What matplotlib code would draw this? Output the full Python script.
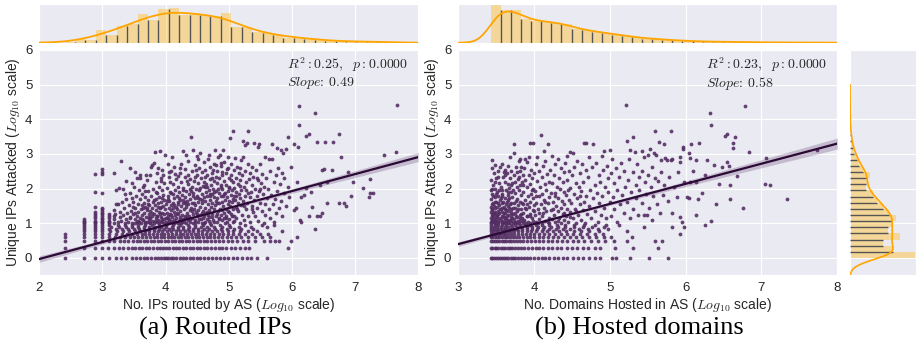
import numpy as np
import matplotlib
matplotlib.use("Agg")
import matplotlib.pyplot as plt
import seaborn as sns

# ---------------- data ----------------
ROW_LEVELS = [0.0, 0.301, 0.477, 0.602, 0.699, 0.778, 0.845, 0.903, 0.954]

L_row_x = [
    [2.40, 2.70, 2.88, 3.00, 3.10, 3.21, 3.30, 3.38, 3.46, 3.53, 3.60, 3.66, 3.71, 3.77, 3.83, 3.88, 3.93, 3.97, 4.00, 4.04,
     4.08, 4.12, 4.17, 4.22, 4.28, 4.33, 4.39, 4.44, 4.50, 4.55, 4.61, 4.67, 4.73, 4.79, 4.86, 4.92, 4.99, 5.06, 5.13, 5.21,
     5.29, 5.35, 5.44, 5.61],
    [2.40, 2.70, 2.88, 3.00, 3.09, 3.18, 3.26, 3.33, 3.40, 3.46, 3.52, 3.58, 3.63, 3.69, 3.74, 3.80, 3.86, 3.91, 3.96, 4.01,
     4.06, 4.11, 4.16, 4.21, 4.27, 4.32, 4.38, 4.43, 4.49, 4.55, 4.60, 4.66, 4.72, 4.78, 4.84, 4.90, 4.96, 5.03, 5.10, 5.18,
     5.25, 5.32, 5.94],
    [2.40, 2.70, 2.88, 3.00, 3.10, 3.19, 3.27, 3.34, 3.41, 3.48, 3.54, 3.60, 3.65, 3.71, 3.77, 3.82, 3.88, 3.93, 3.99, 4.04,
     4.10, 4.15, 4.21, 4.26, 4.32, 4.37, 4.43, 4.49, 4.54, 4.60, 4.66, 4.72, 4.78, 4.84, 4.91, 4.98, 5.05, 5.13, 5.22, 5.31,
     5.42, 5.55, 5.66, 5.73, 5.79, 5.98],
    [2.40, 2.70, 2.88, 3.00, 3.11, 3.20, 3.28, 3.36, 3.43, 3.50, 3.57, 3.63, 3.69, 3.75, 3.81, 3.87, 3.92, 3.98, 4.03, 4.09,
     4.14, 4.20, 4.25, 4.31, 4.36, 4.42, 4.48, 4.53, 4.59, 4.65, 4.71, 4.77, 4.83, 4.90, 4.97, 5.04, 5.12, 5.20, 5.30, 5.41,
     5.52, 5.65, 6.08],
    [2.40, 2.70, 2.88, 3.00, 3.10, 3.22, 3.31, 3.39, 3.47, 3.55, 3.62, 3.68, 3.74, 3.80, 3.86, 3.92, 3.98, 4.04, 4.10, 4.16,
     4.22, 4.28, 4.34, 4.40, 4.46, 4.52, 4.58, 4.64, 4.70, 4.77, 4.84, 4.91, 4.99, 5.07, 5.16, 5.26, 5.37, 5.50, 5.62],
    [2.70, 2.88, 3.00, 3.12, 3.23, 3.33, 3.42, 3.51, 3.59, 3.67, 3.74, 3.81, 3.88, 3.95, 4.02, 4.09, 4.16, 4.23, 4.30, 4.37,
     4.44, 4.51, 4.58, 4.65, 4.73, 4.81, 4.89, 4.98, 5.07, 5.18, 5.31, 5.45, 5.85],
    [2.70, 2.88, 3.00, 3.10, 3.21, 3.31, 3.41, 3.50, 3.58, 3.66, 3.74, 3.82, 3.90, 3.97, 4.05, 4.12, 4.20, 4.28, 4.36, 4.44,
     4.52, 4.60, 4.69, 4.78, 4.87, 4.97, 5.08, 5.20, 5.38, 6.37],
    [2.70, 2.88, 3.00, 3.13, 3.26, 3.37, 3.47, 3.56, 3.65, 3.74, 3.83, 3.92, 4.01, 4.10, 4.19, 4.28, 4.37, 4.46, 4.56, 4.66,
     4.77, 4.89, 5.02, 5.16, 5.35, 5.60],
    [2.70, 2.88, 3.00, 3.11, 3.24, 3.35, 3.46, 3.57, 3.68, 3.79, 3.90, 4.01, 4.12, 4.23, 4.35, 4.47, 4.59, 4.72, 4.86, 5.01,
     5.25, 5.52, 5.72],
]

L_cloud = [
    (2.70, 1.00), (2.70, 1.04), (2.70, 1.08), (2.70, 1.11),
    (2.88, 1.00), (2.88, 1.04), (2.88, 1.08), (2.88, 1.15), (2.88, 1.20), (2.88, 1.26), (2.88, 1.34), (2.88, 1.46),
    (2.88, 1.91), (2.88, 2.42),
    (3.00, 1.00), (3.00, 1.04), (3.00, 1.08), (3.00, 1.11), (3.00, 1.15), (3.00, 1.20), (3.00, 1.26), (3.00, 1.30),
    (3.00, 1.36), (3.00, 1.41), (3.00, 1.45), (3.00, 1.88), (3.00, 2.42), (3.00, 2.48), (3.00, 2.56),
    (3.10, 1.00), (3.10, 1.04), (3.10, 1.08), (3.10, 1.15), (3.10, 1.20), (3.10, 1.28),
    (3.18, 1.02), (3.19, 1.11), (3.18, 1.20), (3.20, 1.28), (3.19, 1.38), (3.21, 1.56), (3.19, 2.46), (3.22, 1.95),
    (3.25, 1.55), (3.24, 1.05), (3.27, 1.17), (3.28, 1.33), (3.30, 2.80), (3.31, 1.62), (3.30, 1.08), (3.33, 1.24),
    (3.34, 1.45), (3.35, 1.85), (3.36, 1.00), (3.37, 1.12), (3.38, 1.70), (3.39, 1.30), (3.26, 2.02), (3.32, 1.98),
    (3.38, 2.21),
    (3.41, 1.04), (3.42, 1.52), (3.43, 2.61), (3.43, 1.18), (3.44, 1.88), (3.45, 1.35), (3.46, 2.15), (3.47, 1.00),
    (3.48, 1.62), (3.49, 1.26), (3.50, 2.05), (3.51, 2.49), (3.51, 1.11), (3.52, 1.44), (3.53, 1.78), (3.54, 1.20),
    (3.55, 2.32), (3.55, 1.03), (3.56, 1.57), (3.57, 1.34), (3.58, 1.95), (3.59, 2.39), (3.59, 2.30), (3.59, 1.15),
    (3.60, 1.70), (3.46, 1.74), (3.52, 1.30), (3.57, 1.08), (3.44, 1.14), (3.49, 1.48),
    (3.61, 1.02), (3.61, 1.40), (3.62, 1.85), (3.63, 1.23), (3.64, 2.05), (3.64, 1.10), (3.65, 1.60), (3.66, 2.10),
    (3.66, 1.31), (3.67, 1.00), (3.68, 1.48), (3.68, 1.75), (3.69, 1.18), (3.70, 2.25), (3.70, 1.38), (3.71, 1.05),
    (3.72, 1.66), (3.72, 1.92), (3.73, 1.26), (3.74, 1.12), (3.74, 1.54), (3.75, 2.40), (3.76, 1.02), (3.76, 1.36),
    (3.77, 1.80), (3.77, 2.62), (3.78, 1.20), (3.78, 2.68), (3.79, 1.45), (3.79, 1.08), (3.80, 1.98), (3.80, 1.62),
    (3.63, 1.52), (3.67, 1.92), (3.71, 1.44), (3.75, 1.15), (3.69, 2.38), (3.73, 1.04),
    (3.81, 1.28), (3.82, 2.75), (3.82, 1.00), (3.83, 3.06), (3.83, 1.52), (3.84, 1.15), (3.84, 2.20), (3.85, 1.70),
    (3.85, 1.38), (3.86, 1.05), (3.86, 2.45), (3.87, 1.88), (3.87, 1.22), (3.88, 1.58), (3.88, 1.10), (3.89, 2.05),
    (3.89, 1.34), (3.90, 1.02), (3.90, 1.75), (3.91, 3.09), (3.91, 1.44), (3.92, 1.18), (3.92, 2.30), (3.93, 1.62),
    (3.93, 1.06), (3.94, 1.95), (3.94, 1.30), (3.95, 2.55), (3.95, 1.12), (3.96, 1.50), (3.96, 1.82), (3.97, 1.00),
    (3.97, 1.26), (3.98, 2.15), (3.98, 1.68), (3.99, 1.40), (3.99, 2.97), (4.00, 1.15), (3.84, 1.90), (3.88, 2.60),
    (3.92, 1.48), (3.96, 2.38),
    (4.01, 1.56), (4.01, 1.04), (4.02, 2.02), (4.02, 1.30), (4.03, 2.72), (4.03, 1.20), (4.04, 1.78), (4.04, 1.00),
    (4.05, 1.45), (4.05, 2.35), (4.06, 1.12), (4.06, 1.65), (4.07, 1.90), (4.07, 1.28), (4.08, 2.50), (4.08, 1.08),
    (4.09, 1.52), (4.09, 1.38), (4.10, 2.90), (4.10, 1.18), (4.11, 1.85), (4.11, 1.02), (4.12, 2.12), (4.12, 1.60),
    (4.13, 1.34), (4.13, 1.10), (4.14, 2.62), (4.14, 1.72), (4.15, 1.24), (4.15, 1.96), (4.16, 1.05), (4.16, 1.48),
    (4.17, 2.28), (4.17, 1.15), (4.18, 1.80), (4.18, 1.40), (4.19, 2.05), (4.19, 1.00), (4.20, 1.62), (4.20, 1.26),
    (4.03, 1.70), (4.07, 2.18), (4.11, 1.44), (4.15, 2.42), (4.19, 1.55),
    (4.21, 1.08), (4.21, 1.90), (4.22, 1.35), (4.22, 2.45), (4.23, 1.18), (4.23, 1.68), (4.24, 2.20), (4.24, 1.02),
    (4.25, 1.50), (4.25, 2.70), (4.26, 1.25), (4.26, 1.82), (4.27, 3.08), (4.27, 1.12), (4.28, 1.58), (4.28, 2.02),
    (4.29, 1.40), (4.29, 1.05), (4.30, 2.35), (4.30, 1.75), (4.31, 1.20), (4.31, 2.58), (4.32, 1.48), (4.32, 1.00),
    (4.33, 1.92), (4.33, 2.98), (4.34, 1.30), (4.34, 1.65), (4.35, 2.12), (4.35, 1.10), (4.36, 1.55), (4.36, 2.80),
    (4.37, 1.22), (4.37, 1.85), (4.38, 1.38), (4.38, 2.28), (4.39, 1.04), (4.39, 1.70), (4.40, 3.50), (4.40, 1.45),
    (4.23, 2.60), (4.27, 1.95), (4.31, 1.62), (4.35, 2.40), (4.39, 2.00),
    (4.41, 1.15), (4.41, 2.05), (4.42, 1.60), (4.42, 2.50), (4.43, 3.11), (4.43, 1.28), (4.44, 1.88), (4.44, 1.02),
    (4.45, 2.22), (4.45, 1.42), (4.46, 1.72), (4.46, 2.68), (4.47, 1.10), (4.47, 1.52), (4.48, 2.00), (4.48, 1.32),
    (4.49, 2.95), (4.49, 1.20), (4.50, 1.80), (4.50, 2.38), (4.51, 1.05), (4.51, 1.62), (4.52, 2.15), (4.52, 1.38),
    (4.53, 1.95), (4.53, 2.60), (4.54, 1.25), (4.54, 1.70), (4.55, 3.03), (4.55, 1.48), (4.56, 2.30), (4.56, 1.12),
    (4.57, 1.85), (4.57, 1.58), (4.58, 2.48), (4.58, 1.00), (4.59, 1.35), (4.59, 2.08), (4.60, 1.75), (4.60, 2.78),
    (4.43, 1.78), (4.47, 2.35), (4.51, 2.85), (4.55, 2.02), (4.59, 1.15),
    (4.61, 1.22), (4.61, 2.20), (4.62, 1.65), (4.62, 1.05), (4.63, 2.55), (4.63, 1.45), (4.64, 1.90), (4.64, 1.30),
    (4.65, 2.40), (4.65, 1.12), (4.66, 1.78), (4.66, 2.05), (4.67, 1.55), (4.67, 2.85), (4.68, 2.97), (4.68, 1.38),
    (4.69, 1.95), (4.69, 1.18), (4.70, 2.28), (4.70, 1.68), (4.71, 1.02), (4.71, 2.62), (4.72, 1.48), (4.72, 2.10),
    (4.73, 1.85), (4.73, 1.28), (4.74, 2.45), (4.74, 1.60), (4.75, 1.10), (4.75, 2.00), (4.76, 2.72), (4.76, 1.40),
    (4.77, 1.75), (4.77, 2.22), (4.78, 3.11), (4.78, 1.52), (4.79, 1.20), (4.79, 1.92), (4.80, 2.35), (4.80, 1.65),
    (4.63, 2.05), (4.67, 1.25), (4.71, 1.85), (4.75, 2.55), (4.79, 2.68),
    (4.81, 1.05), (4.81, 2.15), (4.82, 1.72), (4.82, 2.52), (4.83, 1.35), (4.83, 2.90), (4.84, 1.88), (4.84, 1.15),
    (4.85, 2.30), (4.85, 1.58), (4.86, 2.97), (4.86, 1.42), (4.87, 2.05), (4.87, 1.25), (4.88, 2.65), (4.88, 1.80),
    (4.89, 1.62), (4.89, 2.40), (4.90, 1.10), (4.90, 1.98), (4.91, 3.11), (4.91, 1.50), (4.92, 2.22), (4.92, 1.30),
    (4.93, 1.85), (4.93, 2.78), (4.94, 1.68), (4.94, 1.02), (4.95, 2.45), (4.95, 1.40), (4.96, 2.10), (4.96, 1.20),
    (4.97, 1.75), (4.97, 2.58), (4.98, 1.55), (4.98, 2.90), (4.99, 1.92), (4.99, 1.35), (5.00, 2.30), (5.00, 1.65),
    (4.83, 2.00), (4.87, 2.75), (4.91, 1.78), (4.95, 1.15), (4.99, 2.60),
    (5.01, 1.12), (5.01, 2.05), (5.02, 3.45), (5.02, 1.50), (5.03, 2.40), (5.03, 1.82), (5.04, 1.28), (5.04, 2.70),
    (5.05, 1.95), (5.05, 1.62), (5.06, 2.20), (5.06, 1.05), (5.07, 3.67), (5.07, 1.40), (5.08, 2.55), (5.08, 1.78),
    (5.09, 2.02), (5.09, 1.22), (5.10, 1.68), (5.10, 2.88), (5.11, 1.48), (5.11, 2.30), (5.12, 1.90), (5.12, 1.15),
    (5.13, 2.62), (5.14, 1.58), (5.14, 2.12), (5.15, 1.35), (5.16, 1.85), (5.16, 2.45), (5.17, 1.02), (5.18, 1.72),
    (5.18, 2.25), (5.19, 1.52), (5.20, 2.82), (5.20, 1.95),
    (5.21, 1.25), (5.21, 2.38), (5.22, 3.38), (5.23, 1.65), (5.23, 2.90), (5.24, 2.05), (5.24, 1.10), (5.25, 1.80),
    (5.25, 3.27), (5.26, 2.52), (5.27, 1.42), (5.27, 2.18), (5.28, 1.95), (5.29, 3.32), (5.29, 1.58), (5.30, 2.70),
    (5.31, 3.67), (5.31, 1.20), (5.32, 2.28), (5.33, 1.75), (5.34, 2.45), (5.34, 1.05), (5.35, 1.90), (5.36, 2.62),
    (5.37, 1.50), (5.37, 2.10), (5.38, 1.32), (5.39, 2.35), (5.40, 3.32), (5.40, 1.68),
    (5.41, 2.00), (5.42, 1.22), (5.43, 2.55), (5.44, 1.78), (5.45, 1.45), (5.46, 3.19), (5.46, 2.25), (5.47, 1.08),
    (5.48, 3.30), (5.48, 1.92), (5.49, 2.70), (5.50, 1.60), (5.51, 2.15), (5.52, 1.35), (5.53, 2.42), (5.54, 1.85),
    (5.55, 1.02), (5.56, 2.05), (5.57, 1.55), (5.58, 2.90), (5.58, 1.25), (5.59, 2.30), (5.60, 1.72),
    (5.62, 1.98), (5.63, 1.40), (5.64, 2.86), (5.65, 2.50), (5.66, 1.15), (5.67, 1.82), (5.68, 3.30), (5.69, 2.86),
    (5.70, 1.55), (5.71, 2.20), (5.72, 1.05), (5.73, 1.70), (5.74, 2.40), (5.75, 1.30), (5.76, 3.16), (5.77, 1.92),
    (5.78, 2.60), (5.79, 1.45),
    (5.81, 2.12), (5.82, 3.11), (5.83, 1.65), (5.84, 2.45), (5.85, 1.20), (5.86, 3.03), (5.87, 1.88), (5.88, 2.30),
    (5.90, 3.13), (5.91, 1.50), (5.93, 3.50), (5.94, 2.05), (5.96, 1.75), (5.98, 2.62),
    (6.03, 3.30), (6.03, 1.39), (6.06, 1.43), (6.08, 2.20), (6.09, 3.19), (6.11, 4.39), (6.11, 3.85), (6.13, 1.10),
    (6.15, 1.05), (6.14, 1.77), (6.19, 1.82), (6.23, 3.52), (6.23, 2.01), (6.27, 3.58), (6.27, 1.22), (6.30, 1.91),
    (6.32, 1.48), (6.37, 4.17), (6.40, 3.34), (6.40, 1.20), (6.45, 1.20), (6.45, 2.10), (6.48, 2.54), (6.48, 1.31),
    (6.51, 2.58), (6.53, 3.34), (6.56, 2.20), (6.56, 1.60), (6.64, 2.54), (6.65, 3.36), (6.74, 3.58), (6.75, 1.60),
    (6.77, 2.92), (6.82, 1.60), (6.85, 1.50), (6.88, 2.49), (6.93, 1.79), (6.96, 2.20),
    (7.13, 2.03), (7.22, 1.77), (7.24, 2.28), (7.24, 1.86), (7.28, 1.86), (7.45, 2.98), (7.65, 3.06), (7.67, 4.41),
]

L_cloud_extra = [
    (3.52, 1.00), (3.58, 1.04), (3.62, 1.11), (3.68, 1.04), (3.73, 1.18), (3.78, 1.30), (3.83, 1.08), (3.86, 1.20),
    (3.91, 1.26), (3.94, 1.04), (3.98, 1.11), (4.02, 1.15), (4.05, 1.08), (4.09, 1.23), (4.14, 1.00), (4.18, 1.30),
    (4.22, 1.11), (4.26, 1.04), (4.30, 1.15), (4.34, 1.20), (4.38, 1.11), (4.42, 1.36), (4.46, 1.04), (4.50, 1.26),
    (4.53, 1.11), (4.57, 1.30), (4.61, 1.00), (4.65, 1.34), (4.69, 1.08), (4.73, 1.18), (4.77, 1.04), (4.81, 1.28),
    (4.85, 1.11), (4.89, 1.38), (4.93, 1.15), (4.97, 1.04), (5.01, 1.32), (5.05, 1.20), (5.09, 1.08), (5.13, 1.42),
    (3.64, 1.45), (3.72, 1.57), (3.81, 1.66), (3.88, 1.46), (3.95, 1.72), (4.02, 1.63), (4.08, 1.86), (4.13, 1.52),
    (4.21, 1.74), (4.27, 1.66), (4.33, 1.57), (4.40, 1.92), (4.45, 1.60), (4.52, 1.74), (4.58, 1.68), (4.64, 2.12),
    (4.70, 1.80), (4.76, 1.90), (4.82, 1.58), (4.88, 2.10), (4.94, 1.86), (5.00, 2.02), (5.06, 1.70), (5.12, 1.78),
    (5.18, 2.08), (5.24, 1.50), (5.30, 1.88), (5.36, 1.40), (5.44, 2.30), (5.50, 1.98),
    (3.92, 2.22), (4.06, 2.48), (4.20, 2.36), (4.34, 2.22), (4.48, 2.55), (4.62, 2.35), (4.74, 2.30), (4.90, 2.48),
    (5.04, 2.25), (5.18, 2.60),
]

R_row_x = [
    [3.43, 3.45, 3.47, 3.50, 3.52, 3.55, 3.57, 3.60, 3.63, 3.66, 3.69, 3.72, 3.75, 3.79, 3.83, 3.87, 3.91, 3.95, 4.00, 4.05,
     4.10, 4.15, 4.20, 4.26, 4.32, 4.38, 4.44, 4.51, 4.58, 4.65, 4.73, 4.80, 4.87, 5.03, 5.08, 5.27, 5.52, 5.77],
    [3.43, 3.45, 3.48, 3.50, 3.53, 3.56, 3.59, 3.62, 3.65, 3.68, 3.71, 3.75, 3.79, 3.83, 3.87, 3.92, 3.97, 4.02, 4.07, 4.12,
     4.18, 4.24, 4.30, 4.36, 4.43, 4.50, 4.57, 4.65, 4.71, 4.80, 4.87, 5.07, 5.31, 5.63],
    [3.43, 3.46, 3.48, 3.51, 3.54, 3.57, 3.60, 3.63, 3.67, 3.70, 3.74, 3.78, 3.82, 3.86, 3.91, 3.96, 4.01, 4.06, 4.12, 4.18,
     4.24, 4.30, 4.37, 4.44, 4.51, 4.58, 4.66, 4.75, 4.84, 4.93, 5.05, 5.22, 5.60, 5.69],
    [3.43, 3.45, 3.48, 3.51, 3.54, 3.57, 3.61, 3.64, 3.68, 3.72, 3.76, 3.80, 3.85, 3.90, 3.95, 4.00, 4.06, 4.12, 4.18, 4.25,
     4.32, 4.39, 4.47, 4.55, 4.63, 4.72, 4.82, 4.92, 5.02, 5.29],
    [3.43, 3.46, 3.49, 3.52, 3.55, 3.59, 3.62, 3.66, 3.70, 3.74, 3.79, 3.84, 3.89, 3.94, 4.00, 4.06, 4.13, 4.20, 4.27, 4.35,
     4.43, 4.51, 4.60, 4.70, 4.80, 4.91, 5.93],
    [3.43, 3.46, 3.50, 3.53, 3.57, 3.61, 3.65, 3.69, 3.74, 3.79, 3.84, 3.90, 3.96, 4.03, 4.10, 4.17, 4.25, 4.33, 4.42, 4.52,
     4.62, 4.73, 4.85, 5.22],
    [3.43, 3.47, 3.51, 3.55, 3.59, 3.63, 3.68, 3.73, 3.78, 3.84, 3.90, 3.97, 4.04, 4.12, 4.20, 4.29, 4.38, 4.48, 4.59, 4.71,
     4.84, 4.98],
    [3.43, 3.47, 3.51, 3.56, 3.61, 3.66, 3.71, 3.77, 3.83, 3.90, 3.97, 4.05, 4.13, 4.22, 4.31, 4.41, 4.52, 4.64, 4.77, 4.92,
     5.45, 5.82, 5.98],
    [3.43, 3.48, 3.53, 3.58, 3.63, 3.69, 3.75, 3.81, 3.88, 3.95, 4.03, 4.11, 4.20, 4.30, 4.41, 4.53, 4.66, 4.80, 4.95, 5.12,
     6.26],
]

R_cloud = [
    (3.43, 1.00), (3.43, 1.15), (3.43, 1.32), (3.43, 1.48), (3.43, 1.70), (3.43, 1.95), (3.43, 2.25), (3.44, 2.60),
    (3.44, 1.08), (3.44, 1.40), (3.45, 2.82), (3.45, 1.22), (3.45, 1.85), (3.46, 1.04), (3.46, 1.58), (3.46, 2.10),
    (3.47, 1.30), (3.47, 2.45), (3.47, 1.12), (3.48, 1.75), (3.48, 1.00), (3.48, 2.00), (3.49, 1.45), (3.49, 2.68),
    (3.50, 1.18), (3.50, 1.62), (3.50, 2.30), (3.51, 1.06), (3.51, 1.90), (3.52, 1.36), (3.52, 2.52), (3.52, 1.02),
    (3.53, 1.80), (3.53, 1.26), (3.54, 2.15), (3.54, 1.52), (3.55, 1.10), (3.55, 2.62), (3.55, 1.68), (3.54, 1.95),
    (3.56, 1.40), (3.56, 2.05), (3.57, 1.00), (3.57, 1.22), (3.58, 2.70), (3.58, 1.60), (3.58, 1.85), (3.59, 1.08),
    (3.59, 2.35), (3.60, 1.48), (3.60, 1.30), (3.61, 2.20), (3.61, 1.05), (3.61, 1.72), (3.62, 2.55), (3.62, 1.15),
    (3.63, 1.95), (3.63, 1.38), (3.64, 2.45), (3.64, 1.02), (3.64, 1.62), (3.65, 1.25), (3.65, 2.12), (3.66, 1.82),
    (3.66, 1.10), (3.66, 2.65), (3.67, 1.45), (3.67, 1.00), (3.68, 2.90), (3.68, 2.30), (3.68, 1.55), (3.69, 1.18),
    (3.69, 1.90), (3.70, 2.52), (3.70, 1.32), (3.70, 1.06), (3.57, 1.78), (3.60, 2.48), (3.63, 1.12), (3.65, 1.68),
    (3.67, 2.02), (3.69, 1.40), (3.62, 1.30), (3.59, 1.20), (3.66, 1.50),
    (3.71, 1.75), (3.71, 2.15), (3.72, 1.02), (3.72, 1.28), (3.73, 3.03), (3.73, 1.60), (3.74, 3.30), (3.74, 2.40),
    (3.74, 1.12), (3.75, 1.88), (3.75, 1.45), (3.76, 2.62), (3.76, 1.05), (3.77, 1.35), (3.77, 2.05), (3.78, 1.70),
    (3.78, 1.18), (3.79, 2.28), (3.79, 1.52), (3.80, 1.00), (3.80, 2.80), (3.80, 1.95), (3.81, 1.25), (3.81, 1.62),
    (3.82, 2.50), (3.82, 1.08), (3.82, 2.86), (3.83, 1.42), (3.83, 1.82), (3.84, 2.18), (3.84, 1.15), (3.85, 1.55),
    (3.85, 2.40), (3.85, 1.02), (3.72, 1.95), (3.76, 1.22), (3.79, 1.08), (3.83, 2.62), (3.77, 2.48), (3.81, 2.10),
    (3.86, 1.30), (3.86, 1.90), (3.87, 2.60), (3.87, 1.10), (3.88, 1.68), (3.88, 2.25), (3.89, 1.40), (3.89, 1.02),
    (3.90, 2.05), (3.90, 1.55), (3.91, 2.78), (3.91, 1.20), (3.92, 1.80), (3.92, 1.05), (3.93, 2.40), (3.93, 1.48),
    (3.94, 3.32), (3.94, 1.28), (3.94, 2.12), (3.95, 1.62), (3.95, 1.00), (3.96, 2.55), (3.96, 1.85), (3.97, 1.15),
    (3.97, 2.30), (3.98, 3.33), (3.98, 1.38), (3.98, 1.72), (3.99, 2.00), (3.99, 1.08), (4.00, 2.45), (4.00, 1.52),
    (3.88, 2.85), (3.93, 2.92), (3.97, 1.95),
    (4.01, 1.25), (4.01, 1.92), (4.02, 2.70), (4.03, 1.05), (4.03, 1.60), (4.04, 2.22), (4.04, 2.92), (4.05, 1.40),
    (4.06, 1.78), (4.06, 1.12), (4.07, 2.50), (4.07, 1.30), (4.08, 2.05), (4.09, 3.56), (4.09, 1.55), (4.10, 1.00),
    (4.10, 2.35), (4.11, 1.85), (4.11, 1.20), (4.12, 2.65), (4.13, 3.09), (4.13, 1.45), (4.13, 1.68), (4.14, 2.12),
    (4.15, 1.08), (4.15, 2.80), (4.16, 1.35), (4.16, 1.95), (4.17, 2.42), (4.18, 3.30), (4.18, 1.58), (4.19, 1.15),
    (4.19, 2.20), (4.20, 1.75), (4.20, 1.02),
    (4.21, 2.55), (4.22, 1.38), (4.22, 1.88), (4.23, 2.95), (4.24, 1.12), (4.24, 2.15), (4.25, 1.62), (4.26, 2.40),
    (4.26, 1.25), (4.27, 1.80), (4.28, 2.70), (4.28, 1.05), (4.29, 1.50), (4.30, 2.05), (4.31, 1.35), (4.31, 2.85),
    (4.32, 1.72), (4.33, 2.30), (4.33, 1.15), (4.34, 1.98), (4.35, 1.45), (4.36, 2.60), (4.36, 1.02), (4.37, 1.65),
    (4.38, 2.18), (4.38, 1.28), (4.39, 1.90), (4.40, 2.48), (4.40, 1.55), (4.39, 1.10),
    (4.41, 2.75), (4.42, 1.20), (4.42, 1.82), (4.43, 2.25), (4.44, 1.42), (4.44, 2.95), (4.45, 1.05), (4.46, 1.68),
    (4.46, 2.50), (4.47, 3.05), (4.48, 1.32), (4.48, 2.02), (4.49, 1.58), (4.50, 2.38), (4.51, 3.03), (4.51, 1.15),
    (4.52, 1.85), (4.53, 2.62), (4.54, 1.40), (4.55, 2.15), (4.55, 1.02), (4.56, 1.72), (4.57, 2.80), (4.58, 1.25),
    (4.59, 2.05), (4.60, 1.55),
    (4.61, 2.45), (4.62, 1.10), (4.62, 1.92), (4.63, 2.70), (4.64, 1.38), (4.65, 2.20), (4.66, 3.33), (4.66, 1.62),
    (4.67, 1.02), (4.68, 3.32), (4.68, 2.55), (4.69, 1.80), (4.70, 1.28), (4.71, 2.35), (4.72, 1.50), (4.73, 2.90),
    (4.74, 1.95), (4.75, 1.15), (4.76, 2.62), (4.78, 3.30), (4.78, 1.72), (4.80, 2.10),
    (4.81, 1.35), (4.82, 2.75), (4.83, 1.88), (4.84, 1.05), (4.85, 2.40), (4.86, 1.60), (4.87, 2.18), (4.88, 1.25),
    (4.89, 2.95), (4.90, 1.78), (4.91, 2.55), (4.92, 3.09), (4.92, 1.45), (4.93, 2.05), (4.95, 1.15), (4.96, 2.65),
    (4.97, 1.90), (4.98, 2.30), (5.00, 3.11), (5.00, 1.62),
    (5.01, 2.45), (5.02, 1.20), (5.03, 2.85), (5.04, 1.75), (5.05, 2.15), (5.06, 1.40), (5.08, 2.60), (5.09, 1.05),
    (5.10, 1.95), (5.12, 2.35), (5.13, 1.55), (5.15, 2.75), (5.16, 1.82), (5.18, 1.30), (5.19, 2.50), (5.20, 2.05),
    (5.21, 4.41), (5.22, 3.38), (5.23, 1.62), (5.24, 2.25), (5.25, 2.85), (5.26, 1.15), (5.27, 3.11), (5.28, 1.90),
    (5.30, 3.50), (5.30, 2.48), (5.31, 1.40), (5.33, 3.06), (5.34, 2.10), (5.35, 1.72), (5.36, 2.70), (5.37, 1.25),
    (5.38, 2.35), (5.39, 1.95),
    (5.42, 3.09), (5.42, 1.60), (5.43, 2.50), (5.45, 2.92), (5.45, 1.24), (5.46, 2.20), (5.47, 1.85), (5.49, 1.24),
    (5.50, 2.97), (5.50, 2.40), (5.52, 1.45), (5.53, 3.13), (5.54, 2.05), (5.55, 1.10), (5.56, 2.62), (5.57, 1.78),
    (5.58, 3.02), (5.59, 2.30),
    (5.60, 3.67), (5.61, 2.97), (5.62, 1.55), (5.63, 2.22), (5.65, 3.35), (5.66, 1.30), (5.67, 2.82), (5.68, 2.48),
    (5.70, 1.82), (5.71, 3.28), (5.72, 2.10), (5.73, 2.87), (5.75, 2.82), (5.76, 1.65), (5.78, 2.35), (5.80, 2.84),
    (5.81, 3.67), (5.82, 2.86), (5.82, 1.29), (5.85, 2.05), (5.88, 1.75), (5.90, 2.48), (5.92, 2.78), (5.92, 1.19),
    (5.93, 2.92), (5.95, 1.05), (5.96, 3.19), (5.97, 3.13), (5.98, 2.20),
    (6.02, 1.77), (6.04, 3.03), (6.05, 1.72), (6.06, 2.87), (6.06, 2.20), (6.07, 3.30), (6.10, 2.52), (6.14, 2.82),
    (6.14, 2.20), (6.14, 1.25), (6.16, 1.69), (6.18, 3.32), (6.21, 1.86), (6.26, 2.40), (6.28, 2.84), (6.32, 4.17),
    (6.33, 3.85), (6.33, 1.08), (6.37, 2.68), (6.44, 2.12), (6.48, 2.63), (6.40, 1.55),
    (6.52, 3.52), (6.54, 2.77), (6.55, 3.58), (6.57, 2.65), (6.58, 2.10), (6.59, 1.70), (6.62, 3.33), (6.62, 3.18),
    (6.65, 3.50), (6.68, 2.37), (6.76, 1.43), (6.78, 4.39), (6.84, 3.06),
    (7.04, 2.12), (7.06, 2.87), (7.11, 2.10), (7.34, 1.69), (7.73, 3.11),
]

R_cloud_extra = [
    (3.43, 1.04), (3.44, 1.26), (3.44, 1.56), (3.45, 1.10), (3.45, 1.38), (3.46, 1.20), (3.46, 1.78), (3.47, 1.04),
    (3.47, 1.50), (3.48, 1.28), (3.48, 1.62), (3.49, 1.10), (3.49, 1.34), (3.50, 1.00), (3.50, 1.85), (3.51, 1.22),
    (3.51, 1.48), (3.52, 1.15), (3.53, 1.04), (3.53, 1.60), (3.54, 1.30), (3.55, 1.42), (3.56, 1.15), (3.56, 1.72),
    (3.57, 1.32), (3.58, 1.04), (3.58, 1.45), (3.59, 1.62), (3.60, 1.18), (3.61, 1.40), (3.62, 1.00), (3.63, 1.55),
    (3.64, 1.22), (3.65, 1.04), (3.66, 1.35), (3.67, 1.72), (3.68, 1.10), (3.69, 1.28), (3.70, 1.60), (3.71, 1.15),
    (3.72, 1.45), (3.73, 1.04), (3.75, 1.30), (3.76, 1.65), (3.78, 1.00), (3.79, 1.40), (3.81, 1.15), (3.83, 1.28),
    (3.84, 1.60), (3.86, 1.08), (3.88, 1.45), (3.90, 1.22),
    (3.45, 2.00), (3.49, 2.20), (3.53, 2.35), (3.57, 1.95), (3.61, 2.40), (3.65, 1.90), (3.70, 2.10), (3.75, 2.20),
    (3.80, 2.35), (3.86, 2.10),
    (3.95, 1.20), (4.00, 1.35), (4.05, 1.02), (4.12, 1.30), (4.18, 1.05), (4.25, 1.40), (4.32, 1.08), (4.40, 1.30),
    (4.47, 1.18), (4.55, 1.35), (4.03, 1.80), (4.15, 1.62), (4.28, 1.88), (4.45, 1.95), (4.60, 1.80),
]

# marginal histograms (bin start, bin width, bar heights)
L_top_start, L_top_width = 2.40, 0.165
L_top_counts = [3, 10, 8, 37, 23, 50, 56, 85, 67, 100, 104, 82, 88, 82, 80, 89, 47, 46, 31, 28,
                22, 15, 17, 12, 8, 5, 5, 3, 4, 3, 2, 1]
R_top_start, R_top_width = 3.43, 0.133
R_top_counts = [114, 98, 98, 70, 66, 64, 60, 56, 42, 38, 33, 29, 24, 21, 16, 12, 12, 8, 7, 6,
                4, 3, 3, 3, 2, 2, 1, 1, 1, 0, 1, 0, 1]
R_side_start, R_side_width = 0.0, 0.177
R_side_counts = [196, 130, 100, 150, 115, 125, 138, 118, 100, 82, 68, 48, 50, 60, 40, 28, 22, 12, 8, 5,
                 3, 1, 1, 0, 1]

# regression results shown in the chart (n_obs: approximate number of ASes behind each fit)
L_fit = dict(slope=0.49, intercept=-1.01, r2=0.25, p=0.0, n_obs=2400)
R_fit = dict(slope=0.58, intercept=-1.34, r2=0.23, p=0.0, n_obs=2400)

L_xlabel = "No. IPs routed by AS ($Log_{10}$ scale)"
R_xlabel = "No. Domains Hosted in AS ($Log_{10}$ scale)"
Y_label = "Unique IPs Attacked ($Log_{10}$ scale)"
captions = ["(a) Routed IPs", "(b) Hosted domains"]

# ---------------- style ----------------
sns.set_style("darkgrid")
plt.rcParams['font.family'] = ['Liberation Sans', 'DejaVu Sans']
plt.rcParams['mathtext.fontset'] = 'cm'

BG = '#EAEAF2'
PT = '#542E63'
LINE = '#2B0A36'
ORANGE = '#FFA500'
FILL = '#FFC441'
EDGE = '#555555'
TXT = '#262626'

W, H = 916, 352
fig = plt.figure(figsize=(W / 100, H / 100), dpi=100)


def ax_px(l, t, r, b):
    return fig.add_axes([l / W, 1 - b / H, (r - l) / W, (b - t) / H])


def build_xy(row_x, *clouds):
    xs, ys = [], []
    for lvl, row in zip(ROW_LEVELS, row_x):
        xs += row
        ys += [lvl] * len(row)
    for cloud in clouds:
        for x, y in cloud:
            xs.append(x)
            ys.append(y)
    return np.array(xs), np.array(ys)


def kde_from_hist(start, width, counts, bw, grid):
    c = np.asarray(counts, float)
    centers = start + width * (np.arange(len(c)) + 0.5)
    g = np.exp(-0.5 * ((grid[None, :] - centers[:, None]) / bw) ** 2)
    return (c[:, None] * g).sum(0) * width / (bw * np.sqrt(2 * np.pi))


def main_panel(ax, xs, ys, fit, xlim, xlabel):
    ax.set_facecolor(BG)
    ax.scatter(xs, ys, s=7.5, color=PT, alpha=0.9, linewidths=0, zorder=3)
    gx = np.linspace(xlim[0], xlim[1], 200)
    gy = fit['intercept'] + fit['slope'] * gx
    n = fit['n_obs']
    resid = ys - (fit['intercept'] + fit['slope'] * xs)
    s = np.sqrt((resid ** 2).mean())
    var_x = xs.var()
    se = s * np.sqrt(1.0 / n + (gx - xs.mean()) ** 2 / (n * var_x))
    ax.fill_between(gx, gy - 1.96 * se, gy + 1.96 * se, color=PT, alpha=0.25, linewidth=0, zorder=4)
    ax.plot(gx, gy, color=LINE, lw=1.6, zorder=5)
    ax.set_xlim(*xlim)
    ax.set_ylim(-0.5, 6)
    ax.set_xticks(range(int(xlim[0]), int(xlim[1]) + 1))
    ax.set_yticks(range(0, 7))
    ax.tick_params(labelsize=9.5, colors=TXT, pad=1.5)
    ax.set_xlabel(xlabel, fontsize=10, color=TXT, labelpad=1)
    ax.set_ylabel(Y_label, fontsize=10, color=TXT, labelpad=2)
    txt = (r"$R^2: %.2f,\ \ p: %.4f$" % (fit['r2'], fit['p'])) + "\n" + (r"$Slope$: %.2f" % fit['slope'])
    ax.text(0.653, 0.975, txt, transform=ax.transAxes, ha='left', va='top',
            fontsize=10, family='cmr10', color=TXT, linespacing=1.05, zorder=6)


def top_hist(ax, start, width, counts, bw, xlim, ytop):
    ax.set_facecolor(BG)
    c = np.asarray(counts, float)
    lefts = start + width * np.arange(len(c))
    ax.bar(lefts, c, width=width, align='edge', color=FILL, alpha=0.5, linewidth=0, zorder=2)
    edges = lefts[1:]
    tops = np.minimum(c[:-1], c[1:])
    ax.vlines(edges, 0, tops, colors=EDGE, lw=1.0, zorder=3)
    gx = np.linspace(xlim[0], xlim[1], 400)
    ax.plot(gx, kde_from_hist(start, width, c, bw, gx), color=ORANGE, lw=1.3, zorder=4)
    ax.set_xlim(*xlim)
    ax.set_ylim(0, ytop)
    ax.set_xticks(range(int(xlim[0]), int(xlim[1]) + 1))
    ax.set_yticks([])
    ax.tick_params(labelbottom=False, labelleft=False)


def side_hist(ax, start, width, counts, bw, ylim, xright):
    ax.set_facecolor(BG)
    c = np.asarray(counts, float)
    bots = start + width * np.arange(len(c))
    ax.barh(bots, c, height=width, align='edge', color=FILL, alpha=0.5, linewidth=0, zorder=2)
    edges = bots[1:]
    tops = np.minimum(c[:-1], c[1:])
    ax.hlines(edges, 0, tops, colors=EDGE, lw=1.0, zorder=3)
    gy = np.linspace(ylim[0], 5.0, 400)
    ax.plot(kde_from_hist(start, width, c, bw, gy), gy, color=ORANGE, lw=1.2, zorder=4)
    ax.set_ylim(*ylim)
    ax.set_xlim(0, xright)
    ax.set_yticks(range(0, 7))
    ax.set_xticks([])
    ax.tick_params(labelbottom=False, labelleft=False)


Lx, Ly = build_xy(L_row_x, L_cloud, L_cloud_extra)
Rx, Ry = build_xy(R_row_x, R_cloud, R_cloud_extra)

axL = ax_px(39.3, 50, 418.3, 275.3)
axLt = ax_px(39.3, 4, 418.3, 42.7)
axR = ax_px(458.3, 50, 837.3, 275.3)
axRt = ax_px(458.3, 4, 837.3, 42.7)
axRs = ax_px(850, 50, 916, 275.3)

main_panel(axL, Lx, Ly, L_fit, (2, 8), L_xlabel)
main_panel(axR, Rx, Ry, R_fit, (3, 8), R_xlabel)
top_hist(axLt, L_top_start, L_top_width, L_top_counts, 0.28, (2, 8), 115.6)
top_hist(axRt, R_top_start, R_top_width, R_top_counts, 0.14, (3, 8), 116.3)
side_hist(axRs, R_side_start, R_side_width, R_side_counts, 0.2, (-0.5, 6), 198)

fig.text(215 / W, 1 - 328 / H, captions[0], ha='center', va='center',
         family='Liberation Serif', fontsize=19, color='black')
fig.text(639 / W, 1 - 328 / H, captions[1], ha='center', va='center',
         family='Liberation Serif', fontsize=19, color='black')

fig.savefig("out.png", dpi=100)
